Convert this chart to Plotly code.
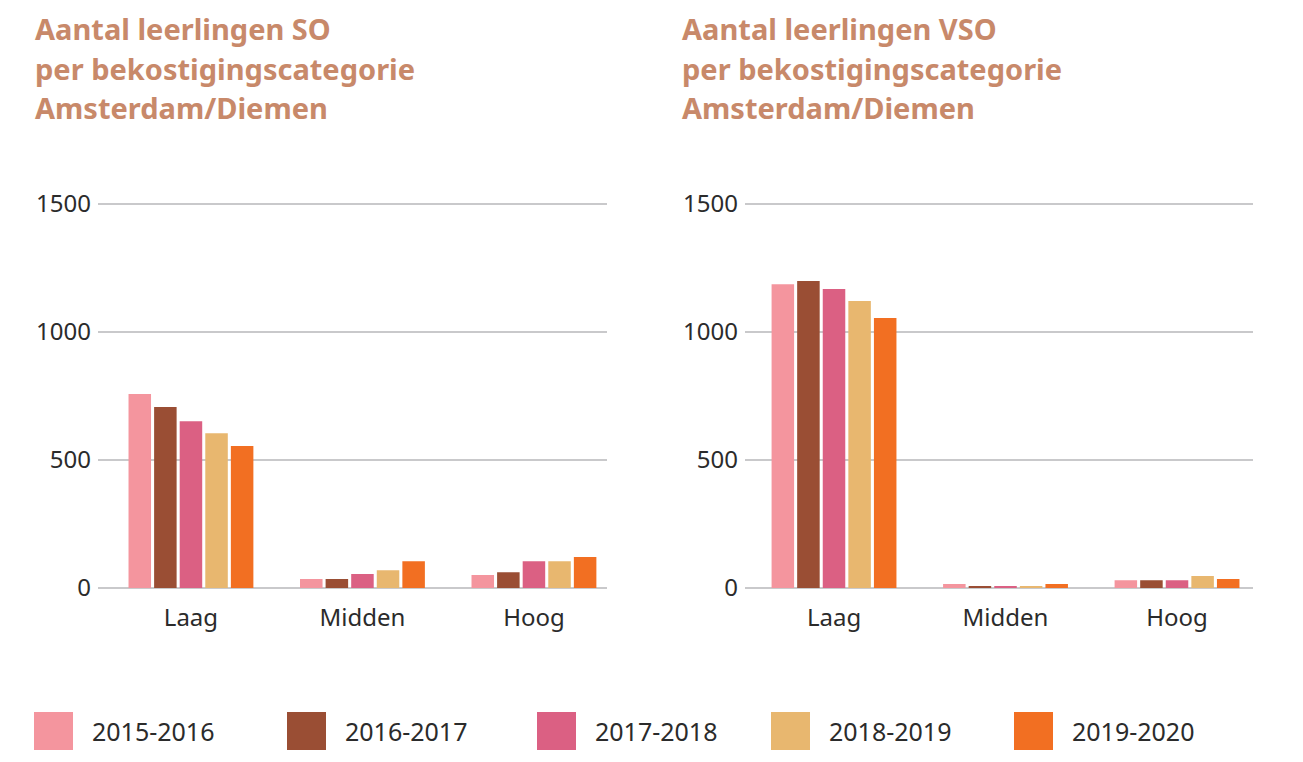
import plotly.graph_objects as go

W, H = 1303, 762
# vertical calibration observed in the rendered picture (display = SY * y + DY)
SY, DY = 0.971, 12

categories = ["Laag", "Midden", "Hoog"]
years = ["2015-2016", "2016-2017", "2017-2018", "2018-2019", "2019-2020"]
colors = ["#F4959E", "#9A4E34", "#DB6083", "#E8B76F", "#F26F22"]

so_values = [
    [758, 35, 51],
    [707, 35, 62],
    [652, 55, 105],
    [605, 70, 105],
    [555, 105, 121],
]
vso_values = [
    [1187, 16, 31],
    [1199, 8, 31],
    [1168, 8, 31],
    [1121, 8, 47],
    [1055, 16, 35],
]
y_ticks = [0, 500, 1000, 1500]

title_so = ["Aantal leerlingen SO", "per bekostigingscategorie", "Amsterdam/Diemen"]
title_vso = ["Aantal leerlingen VSO", "per bekostigingscategorie", "Amsterdam/Diemen"]

FONT = "Noto Sans"
TEXT_COLOR = "#2b2b2b"
TITLE_COLOR = "#C8896A"
GRID = "#c9c9cb"


def px(x):
    return x / W


def py(y):
    return 1 - ((y - DY) / SY) / H


fig = go.Figure()
for i, (yr, col) in enumerate(zip(years, colors)):
    fig.add_trace(go.Bar(x=categories, y=so_values[i], name=yr, marker_color=col,
                         marker_line_width=0, xaxis="x", yaxis="y", showlegend=False))
    fig.add_trace(go.Bar(x=categories, y=vso_values[i], name=yr, marker_color=col,
                         marker_line_width=0, xaxis="x2", yaxis="y2", showlegend=False))

# y pixel mapping: 0 -> 588, 1500 -> 204
y0px, y1500px = 588, 204
ppu = (y0px - y1500px) / 1500
rlo, rhi = -20, 1520
ydom = [py(y0px - rlo * ppu), py(y0px - rhi * ppu)]

yaxis_common = dict(range=[rlo, rhi], tickvals=y_ticks, showgrid=True, gridcolor=GRID,
                    gridwidth=2, zeroline=True, zerolinecolor=GRID, zerolinewidth=2,
                    showline=False, ticks="", ticklabelstandoff=6,
                    tickfont=dict(family=FONT, size=24, color=TEXT_COLOR), domain=ydom,
                    fixedrange=True)
xaxis_common = dict(showgrid=False, zeroline=False, showline=False, ticks="",
                    ticklabelstandoff=8,
                    tickfont=dict(family=FONT, size=24, color=TEXT_COLOR), fixedrange=True)

fig.update_layout(
    width=W, height=H,
    margin=dict(l=0, r=0, t=0, b=0),
    paper_bgcolor="white", plot_bgcolor="white",
    barmode="group", bargap=0.254, bargroupgap=0.12,
    showlegend=False,
    xaxis=dict(xaxis_common, domain=[px(98), px(607)], range=[-0.542, 2.426], anchor="y"),
    yaxis=dict(yaxis_common, anchor="x"),
    xaxis2=dict(xaxis_common, domain=[px(745), px(1253)], range=[-0.519, 2.443], anchor="y2"),
    yaxis2=dict(yaxis_common, anchor="x2"),
)

annotations = []
line_y = [28, 68, 107]
for tx, lines in [(33, title_so), (680, title_vso)]:
    for ly, txt in zip(line_y, lines):
        annotations.append(dict(x=px(tx), y=py(ly), xref="paper", yref="paper",
                                xanchor="left", yanchor="middle", showarrow=False,
                                text="<b>" + txt + "</b>",
                                font=dict(family=FONT, size=29, color=TITLE_COLOR)))

# legend drawn as shapes + labels
leg_sq_x = [34, 287, 537, 771, 1014]
shapes = []
for x0, yr, col in zip(leg_sq_x, years, colors):
    shapes.append(dict(type="rect", xref="paper", yref="paper",
                       x0=px(x0), x1=px(x0 + 39), y0=py(750), y1=py(712),
                       fillcolor=col, line=dict(width=0)))
    annotations.append(dict(x=px(x0 + 56), y=py(731), xref="paper", yref="paper",
                            xanchor="left", yanchor="middle", showarrow=False, text=yr,
                            font=dict(family=FONT, size=25, color=TEXT_COLOR)))

fig.update_layout(annotations=annotations, shapes=shapes)
fig.write_html(
    "out.html",
    config={"displayModeBar": False},
    post_script="document.body.style.margin='0';document.body.style.overflow='hidden';",
)
